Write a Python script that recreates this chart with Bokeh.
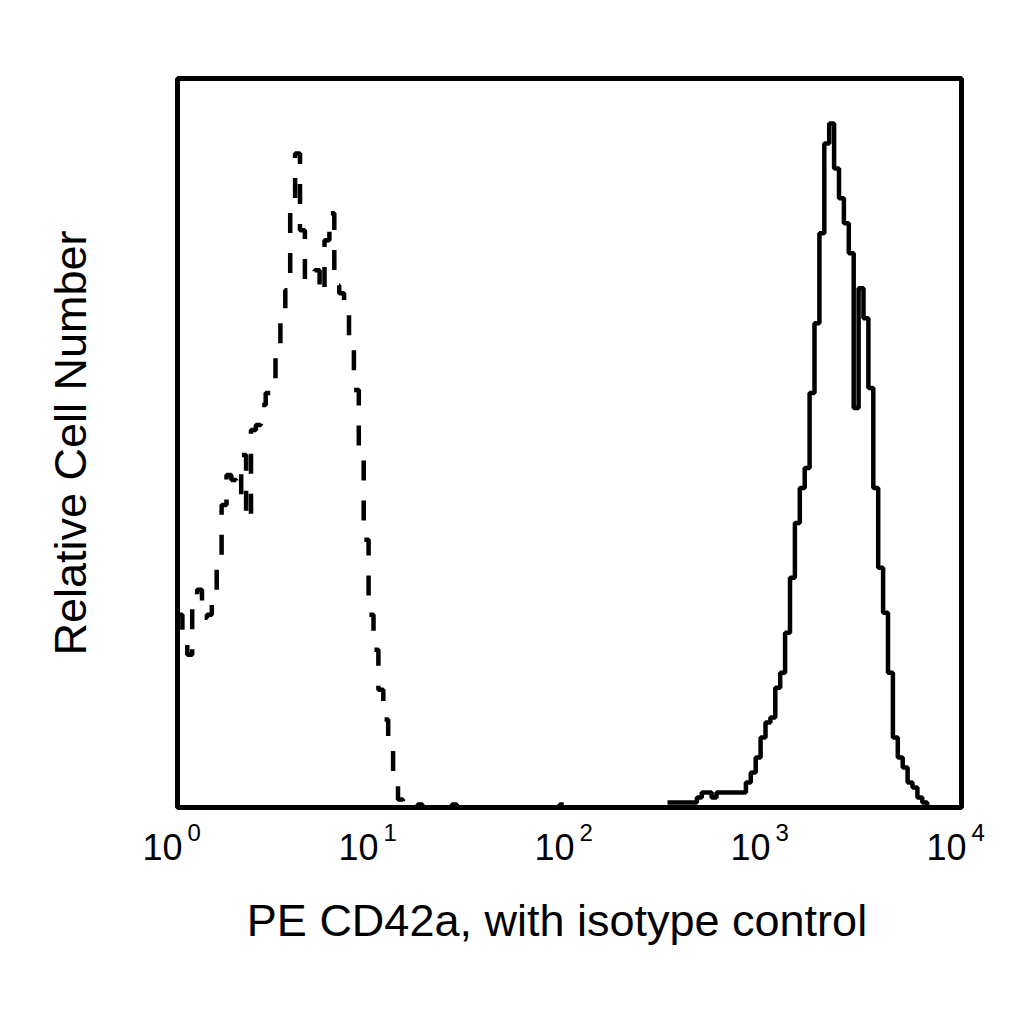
from bokeh.plotting import figure
from bokeh.models import Range1d, FixedTicker, LogAxis
from bokeh.embed import file_html
from bokeh.resources import INLINE

# channel width in decades (log10 units)
BIN_WIDTH = 0.025

# isotype control histogram (dashed), first channel at 10^0
iso_start = 0.0
iso_counts = [38.6, 33.6, 30.6, 40.6, 43.6, 38.0, 38.6, 42.0, 49.6, 60.6,
              66.6, 65.6, 62.6, 70.6, 57.6, 75.6, 76.6, 80.6, 83.0, 85.6,
              92.6, 97.6, 103.6, 121.6, 131.0, 115.6, 105.6, 107.0, 107.6, 103.0,
              113.6, 119.0, 104.6, 103.0, 101.6, 92.6, 83.6, 71.6, 53.6, 38.6,
              31.6, 23.6, 17.6, 11.6, 4.6, 1.6, 0.4, 0, 0, 0.6,
              0, 0, 0, 0.6, 0, 0, 0.6, 0, 0, 0.6,
              0, 0, 0, 0, 0.6, 0, 0, 0, 0, 0,
              0, 0, 0, 0, 0, 0, 0, 0, 0.6, 0]

# PE CD42a histogram (solid), first channel at 10^2.5
cd42a_start = 2.5
cd42a_counts = [1, 1, 1, 1, 1, 1, 2, 3, 3, 2,
                3, 3, 3, 3, 3, 3, 5, 7, 10, 14,
                17, 18, 24, 27, 35, 46, 57, 64, 68, 83,
                97, 115, 133, 137, 128, 122, 117, 111, 80, 104,
                98, 84, 64, 48, 39, 27, 14, 10, 8, 5,
                4, 2, 1]

decades = [1, 10, 100, 1000, 10000]
exponents = ["0", "1", "2", "3", "4"]
y_max = 146

FONT = "Liberation Sans"
NBSP = "\u00a0"


def channel_steps(start, counts):
    xs = [10 ** (start + i * BIN_WIDTH) for i in range(len(counts) + 1)]
    ys = list(counts) + [0]
    return xs, ys


p = figure(width=1000, height=1000, x_axis_type="log",
           x_range=Range1d(decades[0], decades[-1]), y_range=Range1d(0, y_max),
           output_backend="svg", toolbar_location=None,
           min_border_left=177, min_border_right=39,
           min_border_top=78, min_border_bottom=193)

p.outline_line_color = "black"
p.outline_line_width = 5
p.outline_line_alpha = 1
p.grid.visible = False
p.background_fill_color = "white"
p.border_fill_color = "white"

xs, ys = channel_steps(iso_start, iso_counts)
p.step(xs, ys, mode="after", line_color="black", line_width=4.5, line_dash="20 20")

xs, ys = channel_steps(cd42a_start, cd42a_counts)
p.step(xs, ys, mode="after", line_color="black", line_width=4.5)


def bare_axis(ax):
    ax.ticker = FixedTicker(ticks=decades)
    ax.axis_line_color = None
    ax.major_tick_line_color = None
    ax.minor_tick_line_color = None
    ax.major_tick_out = 0
    ax.major_tick_in = 0
    ax.major_label_text_font = FONT
    ax.major_label_text_color = "black"


# first row: the "10" of each decade, padded so it sits left of the tick
base_axis = p.xaxis[0]
bare_axis(base_axis)
base_axis.major_label_overrides = {d: "10" + NBSP * 3 for d in decades}
base_axis.major_label_text_font_size = "36px"
base_axis.major_label_standoff = 19

# second row: the exponents, pulled up beside the "10"
exp_axis = LogAxis()
bare_axis(exp_axis)
exp_axis.major_label_overrides = {d: NBSP * 5 + e for d, e in zip(decades, exponents)}
exp_axis.major_label_text_font_size = "24px"
exp_axis.major_label_standoff = -52
exp_axis.axis_label = "PE CD42a, with isotype control" + NBSP * 2
exp_axis.axis_label_text_font = FONT
exp_axis.axis_label_text_font_size = "45px"
exp_axis.axis_label_text_font_style = "normal"
exp_axis.axis_label_text_color = "black"
exp_axis.axis_label_standoff = 46
p.add_layout(exp_axis, "below")

# y axis: title only
p.yaxis.ticker = FixedTicker(ticks=[])
p.yaxis.axis_line_color = None
p.yaxis.major_tick_line_color = None
p.yaxis.minor_tick_line_color = None
p.yaxis.major_tick_out = 0
p.yaxis.axis_label = "Relative Cell Number"
p.yaxis.axis_label_text_font = FONT
p.yaxis.axis_label_text_font_size = "45px"
p.yaxis.axis_label_text_font_style = "normal"
p.yaxis.axis_label_text_color = "black"
p.yaxis.axis_label_standoff = 82

open("out.html", "w").write(file_html(p, INLINE))
